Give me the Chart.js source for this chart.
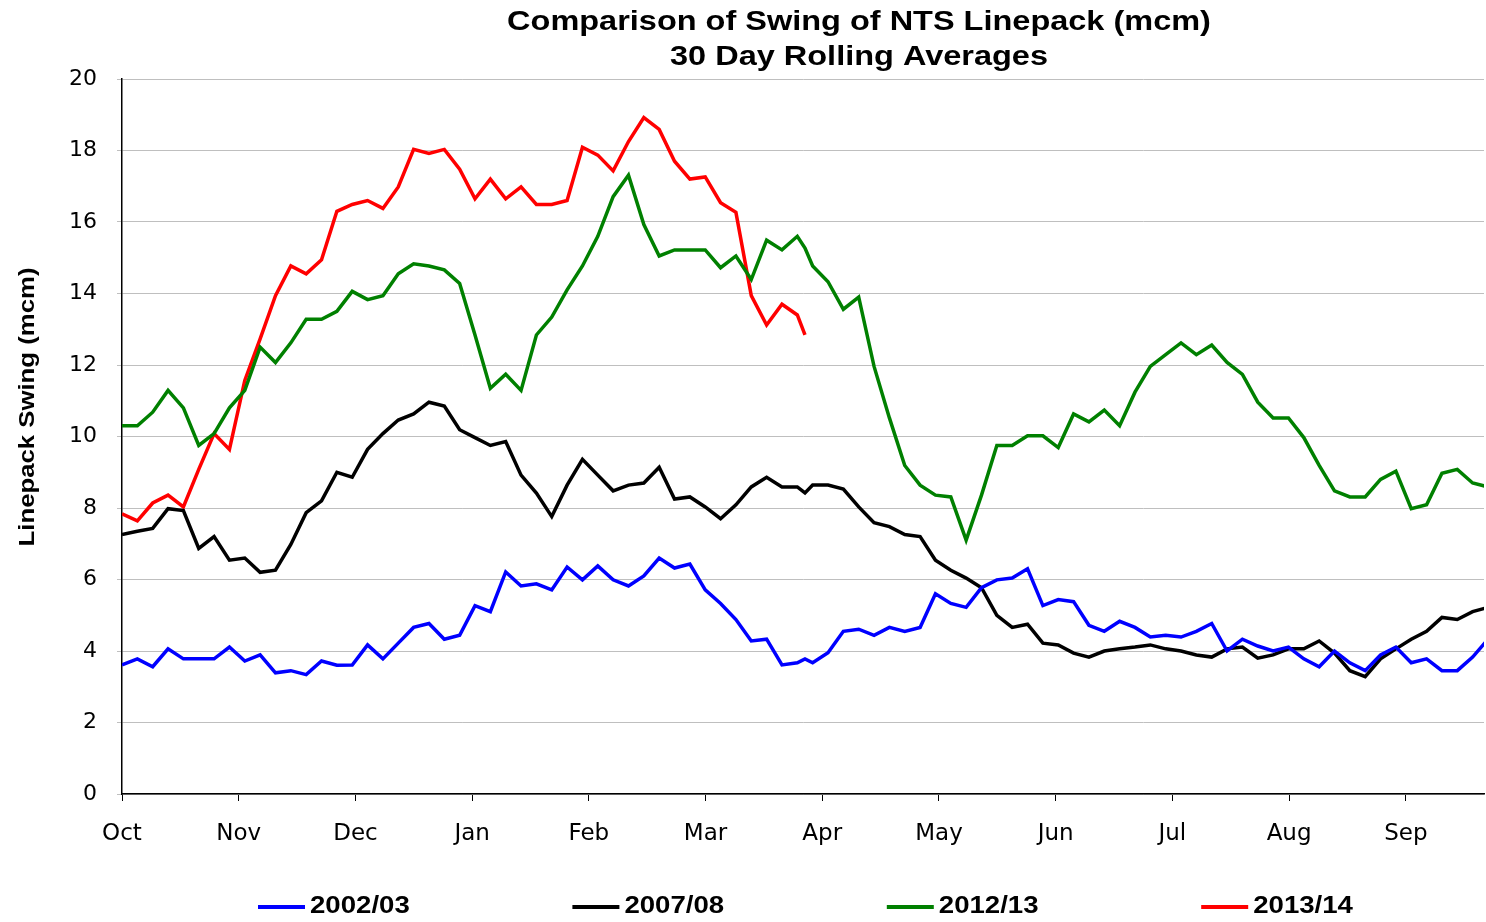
<!DOCTYPE html>
<html>
<head>
<meta charset="utf-8">
<script src="https://cdn.jsdelivr.net/npm/chart.js@4"></script>
<style>
  html, body { margin: 0; padding: 0; background: #fff; }
</style>
</head>
<body>
<canvas id="linepackChart" width="1486" height="922"></canvas>
<script>
// day of gas year (0 = 1 Oct)
const days = [0,4,8,12,16,20,24,28,32,36,40,44,48,52,56,60,64,68,72,76,80,84,88,92,96,100,104,108,112,116,
  120,124,128,132,136,140,144,148,152,156,160,164,168,172,176,178,180,184,188,192,196,200,204,208,212,216,220,224,228,232,236,
  240,244,248,252,256,260,264,268,272,276,280,284,288,292,296,300,304,308,312,316,320,324,328,332,336,340,344,348,352,356];

const monthNames = ['Oct','Nov','Dec','Jan','Feb','Mar','Apr','May','Jun','Jul','Aug','Sep'];
const yTicks = [0,2,4,6,8,10,12,14,16,18,20];
const seriesNames = ['2002/03','2007/08','2012/13','2013/14'];
const seriesColors = ['#0000ff','#000000','#008000','#ff0000'];

const swing2002 = [3.61,3.78,3.56,4.06,3.78,3.78,3.78,4.11,3.72,3.89,3.39,3.45,3.34,3.72,3.6,
  3.61,4.17,3.78,4.22,4.66,4.77,4.33,4.44,5.27,5.1,6.21,5.82,5.88,5.71,6.35,
  5.99,6.38,5.99,5.82,6.1,6.6,6.32,6.43,5.71,5.33,4.88,4.28,4.33,3.61,3.67,
  3.78,3.67,3.95,4.55,4.61,4.44,4.66,4.55,4.66,5.6,5.33,5.22,5.77,5.99,6.04,6.3,
  5.27,5.44,5.38,4.72,4.55,4.83,4.66,4.39,4.44,4.39,4.55,4.77,4.0,4.33,4.14,
  4.0,4.11,3.78,3.56,4.0,3.67,3.45,3.89,4.11,3.67,3.78,3.45,3.45,3.83,4.33];

const swing2007 = [7.26,7.35,7.43,7.98,7.93,6.87,7.2,6.54,6.6,6.2,6.26,6.98,7.87,8.2,9.0,
  8.86,9.64,10.08,10.46,10.63,10.96,10.85,10.19,9.97,9.75,9.86,8.92,8.42,7.76,8.64,
  9.36,8.92,8.48,8.64,8.7,9.14,8.25,8.31,8.03,7.7,8.09,8.59,8.86,8.59,8.59,
  8.42,8.64,8.64,8.53,8.03,7.59,7.48,7.26,7.2,6.54,6.26,6.04,5.77,5.0,4.66,4.75,
  4.22,4.17,3.94,3.83,4.0,4.06,4.11,4.17,4.06,4.0,3.89,3.83,4.06,4.11,3.8,
  3.89,4.06,4.06,4.28,3.94,3.45,3.28,3.78,4.06,4.33,4.55,4.94,4.88,5.1,5.22];

const swing2012 = [10.3,10.3,10.68,11.29,10.8,9.75,10.08,10.8,11.29,12.5,12.07,12.62,13.28,13.28,13.5,
  14.06,13.83,13.94,14.55,14.83,14.77,14.66,14.28,12.84,11.35,11.74,11.29,12.84,13.34,14.1,
  14.77,15.6,16.71,17.31,15.93,15.05,15.22,15.22,15.22,14.72,15.05,14.39,15.49,15.22,15.6,
  15.27,14.77,14.33,13.56,13.9,11.96,10.52,9.19,8.64,8.36,8.31,7.1,8.36,9.75,9.75,10.02,
  10.02,9.69,10.63,10.41,10.74,10.3,11.24,11.96,12.29,12.62,12.29,12.56,12.07,11.74,10.96,
  10.52,10.52,9.97,9.19,8.48,8.31,8.31,8.8,9.03,7.98,8.09,8.97,9.08,8.7,8.59];

const swing2013 = [7.84,7.64,8.14,8.36,8.03,9.08,10.08,9.64,11.57,12.73,13.94,14.77,14.55,14.94,16.3,
  16.49,16.6,16.38,16.98,18.03,17.92,18.03,17.48,16.65,17.2,16.65,16.98,16.49,16.49,16.6,
  18.09,17.87,17.43,18.25,18.92,18.59,17.7,17.2,17.26,16.54,16.27,13.94,13.12,13.7,13.4,
  12.84,null,null,null,null,null,null,null,null,null,null,null,null,null,null,null,
  null,null,null,null,null,null,null,null,null,null,null,null,null,null,null,
  null,null,null,null,null,null,null,null,null,null,null,null,null,null,null];

const titleLines = ['Comparison of Swing of NTS Linepack (mcm)', '30 Day Rolling Averages'];
const yTitle = 'Linepack Swing (mcm)';

const daysPerMonth = 365 / 12;
const fontFam = '"Liberation Sans", Arial, sans-serif';
const tickFam = '"DejaVu Sans", "Liberation Sans", Arial, sans-serif';

function toPoints(vals) {
  return days.map((d, i) => ({ x: d, y: vals[i] }));
}

const allSeries = [swing2002, swing2007, swing2012, swing2013];
const datasets = allSeries.map((vals, i) => ({
  label: seriesNames[i],
  data: toPoints(vals),
  borderColor: seriesColors[i],
  backgroundColor: seriesColors[i],
  borderWidth: 3.5,
  pointRadius: 0,
  tension: 0,
  spanGaps: false
}));

// stretched text, like the wide lettering of the original
function wideText(ctx, text, x, y, stretch) {
  ctx.save();
  ctx.translate(x, y);
  ctx.scale(stretch, 1);
  ctx.fillText(text, 0, 0);
  ctx.restore();
}

// title, axis title and legend drawn by hand so they sit where the original has them
const textPlugin = {
  id: 'swingText',
  afterDraw(chart) {
    const ctx = chart.ctx;
    ctx.save();
    ctx.fillStyle = '#000';
    ctx.textAlign = 'center';
    ctx.textBaseline = 'middle';
    ctx.font = 'bold 28px ' + fontFam;
    wideText(ctx, titleLines[0], 859, 22, 1.16);
    wideText(ctx, titleLines[1], 859, 57, 1.16);

    ctx.save();
    ctx.translate(28, 407);
    ctx.rotate(-Math.PI / 2);
    ctx.font = 'bold 22px ' + fontFam;
    wideText(ctx, yTitle, 0, 0, 1.17);
    ctx.restore();

    ctx.textAlign = 'left';
    ctx.font = 'bold 23px ' + fontFam;
    seriesNames.forEach((name, i) => {
      const x0 = 258 + i * 314.4;
      ctx.fillStyle = seriesColors[i];
      ctx.fillRect(x0, 905, 47, 4);
      ctx.fillStyle = '#000';
      wideText(ctx, name, x0 + 52, 907, 1.2);
    });
    ctx.restore();
  }
};

new Chart(document.getElementById('linepackChart'), {
  type: 'line',
  data: { datasets: datasets },
  plugins: [textPlugin],
  options: {
    responsive: false,
    animation: false,
    layout: { padding: { top: 79, right: 2, left: 0, bottom: 0 } },
    plugins: {
      legend: { display: false },
      title: { display: false },
      tooltip: { enabled: false }
    },
    scales: {
      x: {
        type: 'linear',
        min: 0,
        max: 11.67 * daysPerMonth,
        afterFit: (scale) => { scale.height = 128; },
        afterBuildTicks: (scale) => {
          scale.ticks = monthNames.map((m, i) => ({ value: i * daysPerMonth }));
        },
        ticks: {
          autoSkip: false,
          maxRotation: 0,
          color: '#000',
          padding: 19,
          font: { family: tickFam, size: 23 },
          callback: (value, index) => monthNames[index]
        },
        grid: {
          drawOnChartArea: false,
          drawTicks: true,
          tickLength: 7,
          color: '#000'
        },
        border: { display: true, color: '#000', width: 1.5 }
      },
      y: {
        min: 0,
        max: 20,
        afterFit: (scale) => { scale.width = 122; },
        afterBuildTicks: (scale) => {
          scale.ticks = yTicks.map(v => ({ value: v }));
        },
        ticks: {
          color: '#000',
          padding: 20,
          font: { family: tickFam, size: 22 }
        },
        grid: {
          color: '#bfbfbf',
          lineWidth: 1,
          tickLength: 5
        },
        border: { display: true, color: '#000', width: 1.5 }
      }
    }
  }
});
</script>
</body>
</html>
